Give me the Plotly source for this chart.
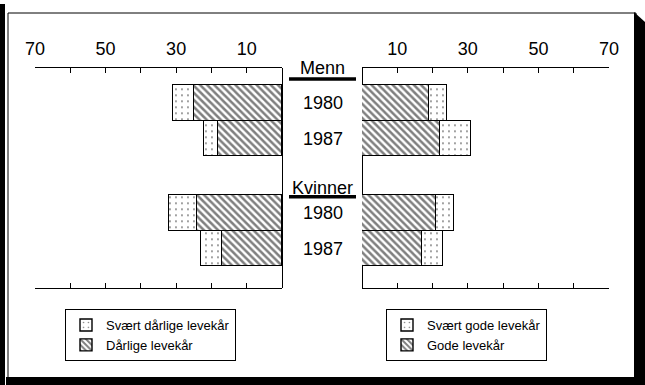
import plotly.graph_objects as go

W, H = 645, 385

# Data: share of people with poor / good living conditions (%)
groups = ["Menn", "Kvinner"]
years = ["1980", "1987"]
svaert_darlige = [6, 4, 8, 6]
darlige = [25, 18, 24, 17]
gode = [19, 22, 21, 17]
svaert_gode = [5, 9, 5, 6]

tick_values = [0, 10, 20, 30, 40, 50, 60, 70]
tick_labels = ["", "10", "", "30", "", "50", "", "70"]

legend_left = ["Svært dårlige levekår", "Dårlige levekår"]
legend_right = ["Svært gode levekår", "Gode levekår"]

# Row positions: two years per group, with a gap between the groups
GROUP_STEP = 3.1
rows = [g * GROUP_STEP + i for g in range(len(groups)) for i in range(len(years))]
row_years = [y for g in groups for y in years]


def fx(p):
    return p / W


def fy(p):
    return 1 - p / H


FONT = "Liberation Sans, Arial, Helvetica, sans-serif"
hatch = dict(shape="\\", size=5, solidity=0.5, fgcolor="black", bgcolor="white")
dots = dict(shape=".", size=6, solidity=0.08, fgcolor="black", bgcolor="white")
outline = dict(color="black", width=1.4)

fig = go.Figure()
fig.add_bar(y=rows, x=darlige, orientation="h", width=1, xaxis="x", yaxis="y",
            marker=dict(color="white", pattern=hatch, line=outline),
            name=legend_left[1], legend="legend", hoverinfo="x")
fig.add_bar(y=rows, x=svaert_darlige, orientation="h", width=1, xaxis="x", yaxis="y",
            marker=dict(color="white", pattern=dots, line=outline),
            name=legend_left[0], legend="legend", hoverinfo="x")
fig.add_bar(y=rows, x=gode, orientation="h", width=1, xaxis="x2", yaxis="y2",
            marker=dict(color="white", pattern=hatch, line=outline),
            name=legend_right[1], legend="legend2", hoverinfo="x")
fig.add_bar(y=rows, x=svaert_gode, orientation="h", width=1, xaxis="x2", yaxis="y2",
            marker=dict(color="white", pattern=dots, line=outline),
            name=legend_right[0], legend="legend2", hoverinfo="x")

# Value axes: labels on top, ticks inside, mirrored at the bottom; the zero
# line closes each half towards the centre column
xcommon = dict(side="top", ticks="inside", ticklen=5, tickwidth=1, tickcolor="black",
               tickvals=tick_values, ticktext=tick_labels, showline=True,
               linecolor="black", linewidth=1.2, mirror="ticks", showgrid=False,
               zeroline=True, zerolinecolor="black", zerolinewidth=1.2,
               ticklabelstandoff=5, automargin=False,
               tickfont=dict(family=FONT, size=18, color="black"))
ycommon = dict(domain=[fy(288), fy(68.3)], showline=False, showgrid=False,
               zeroline=False, ticks="", showticklabels=False, automargin=False)

legend_common = dict(xanchor="left", yanchor="top", bordercolor="black", borderwidth=1,
                     bgcolor="white", traceorder="reversed", tracegroupgap=0,
                     font=dict(family=FONT, size=13, color="black"))

fig.update_layout(
    width=W, height=H,
    margin=dict(l=0, r=0, t=0, b=0, pad=0, autoexpand=False),
    paper_bgcolor="white", plot_bgcolor="white",
    barmode="stack", bargap=0,
    xaxis=dict(domain=[fx(35), fx(282)], range=[70, 0], anchor="y", **xcommon),
    xaxis2=dict(domain=[fx(362), fx(609)], range=[0, 70], anchor="y2", **xcommon),
    yaxis=dict(range=[5.2, -0.99], anchor="x", **ycommon),
    yaxis2=dict(matches="y", anchor="x2", **ycommon),
    legend=dict(x=fx(65), y=fy(309), **legend_common),
    legend2=dict(x=fx(386), y=fy(309), **legend_common),
)

# Year labels between the two halves
for pos, yr in zip(rows, row_years):
    fig.add_annotation(x=fx(323), y=pos, xref="paper", yref="y", text=yr,
                       xanchor="center", yanchor="middle", showarrow=False,
                       font=dict(family=FONT, size=18, color="black"))

# Group headings with underline
for label, ty, uy in [("Menn", 68, 79), ("Kvinner", 188, 196.7)]:
    fig.add_annotation(x=fx(322.5), y=fy(ty), xref="paper", yref="paper", text=label,
                       xanchor="center", yanchor="middle", showarrow=False,
                       font=dict(family=FONT, size=18, color="black"))
    fig.add_shape(type="line", xref="paper", yref="paper", x0=fx(289), x1=fx(356),
                  y0=fy(uy), y1=fy(uy), line=dict(color="black", width=3.5))


def path(points):
    return "M " + " L ".join(f"{fx(x)},{fy(y)}" for x, y in points) + " Z"


# Frame with heavy shadow edges
fig.add_shape(type="rect", xref="paper", yref="paper", x0=fx(8), x1=fx(636),
              y0=fy(378), y1=fy(13), line=dict(color="black", width=1))
fig.add_shape(type="rect", xref="paper", yref="paper", x0=fx(0), x1=fx(5),
              y0=fy(385), y1=fy(4), fillcolor="black", line=dict(width=0))
fig.add_shape(type="path", xref="paper", yref="paper",
              path=path([(634, 12), (645, 22), (645, 385), (634, 385)]),
              fillcolor="black", line=dict(width=0))
fig.add_shape(type="rect", xref="paper", yref="paper", x0=fx(6), x1=fx(645),
              y0=fy(385), y1=fy(377), fillcolor="black", line=dict(width=0))

fig.write_html("out.html")
